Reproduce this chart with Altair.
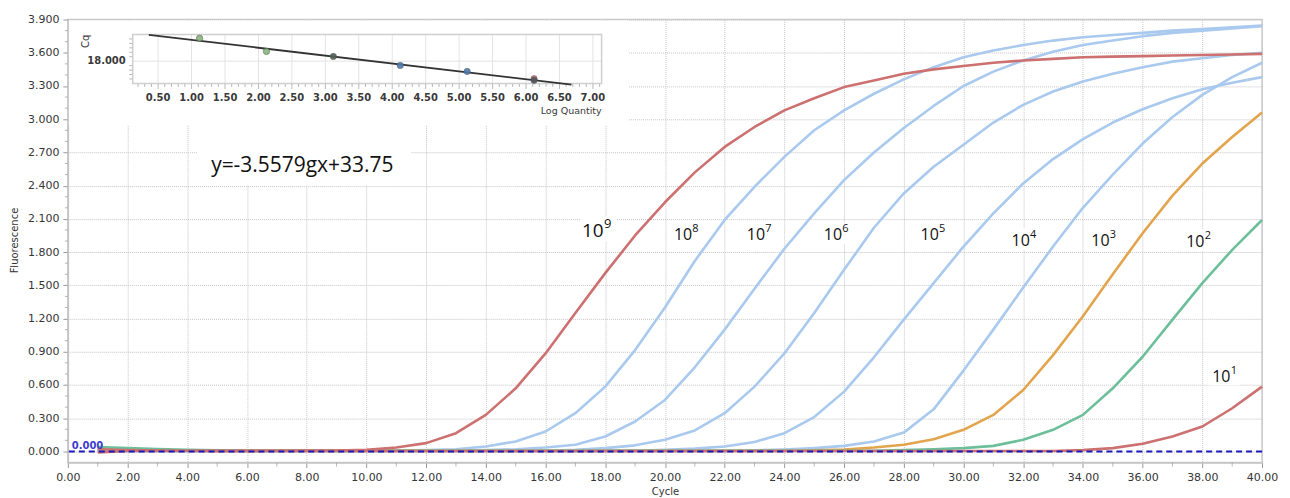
import altair as alt
import pandas as pd

# ---------------- data ----------------
CYCLES = list(range(1, 41))

F_1E9 = [0.020, 0.012, 0.008, 0.006, 0.005, 0.005, 0.006, 0.007, 0.009, 0.015,
         0.035, 0.075, 0.165, 0.330, 0.570, 0.885, 1.250, 1.610, 1.950, 2.250,
         2.520, 2.750, 2.930, 3.080, 3.190, 3.290, 3.350, 3.410, 3.450, 3.480,
         3.510, 3.530, 3.545, 3.560, 3.565, 3.570, 3.575, 3.580, 3.585, 3.590]
F_1E8 = [0.020, 0.015, 0.010, 0.008, 0.008, 0.008, 0.008, 0.008, 0.008, 0.008,
         0.008, 0.012, 0.020, 0.045, 0.090, 0.180, 0.345, 0.585, 0.915, 1.300,
         1.720, 2.090, 2.390, 2.660, 2.900, 3.080, 3.230, 3.360, 3.470, 3.560,
         3.620, 3.670, 3.710, 3.740, 3.760, 3.780, 3.800, 3.815, 3.830, 3.845]
F_1E7 = [0.015, 0.010, 0.008, 0.008, 0.008, 0.008, 0.008, 0.008, 0.008, 0.008,
         0.008, 0.008, 0.008, 0.012, 0.020, 0.035, 0.060, 0.135, 0.270, 0.465,
         0.760, 1.100, 1.470, 1.830, 2.150, 2.450, 2.700, 2.920, 3.120, 3.300,
         3.430, 3.530, 3.610, 3.670, 3.710, 3.750, 3.780, 3.800, 3.820, 3.840]
F_1E6 = [0.010, 0.006, 0.006, 0.006, 0.006, 0.006, 0.006, 0.006, 0.006, 0.006,
         0.006, 0.006, 0.006, 0.006, 0.006, 0.006, 0.015, 0.030, 0.055, 0.105,
         0.190, 0.345, 0.585, 0.885, 1.250, 1.640, 2.020, 2.330, 2.570, 2.770,
         2.970, 3.130, 3.250, 3.340, 3.410, 3.470, 3.520, 3.550, 3.580, 3.600]
F_1E5 = [0.005, 0.005, 0.005, 0.005, 0.005, 0.005, 0.005, 0.005, 0.005, 0.005,
         0.005, 0.005, 0.005, 0.005, 0.005, 0.005, 0.005, 0.005, 0.005, 0.015,
         0.025, 0.045, 0.085, 0.165, 0.310, 0.540, 0.850, 1.190, 1.520, 1.850,
         2.150, 2.420, 2.640, 2.820, 2.970, 3.090, 3.190, 3.270, 3.330, 3.380]
F_1E4 = [0.005, 0.005, 0.005, 0.005, 0.005, 0.005, 0.005, 0.005, 0.005, 0.005,
         0.005, 0.005, 0.005, 0.005, 0.005, 0.005, 0.005, 0.005, 0.005, 0.005,
         0.005, 0.005, 0.010, 0.018, 0.030, 0.050, 0.090, 0.170, 0.380, 0.730,
         1.100, 1.480, 1.850, 2.200, 2.500, 2.780, 3.020, 3.220, 3.380, 3.510]
F_1E3 = [0.030, 0.020, 0.012, 0.008, 0.005, 0.005, 0.005, 0.005, 0.005, 0.005,
         0.005, 0.005, 0.005, 0.005, 0.005, 0.005, 0.005, 0.005, 0.005, 0.005,
         0.005, 0.005, 0.005, 0.005, 0.010, 0.018, 0.035, 0.060, 0.110, 0.195,
         0.330, 0.555, 0.870, 1.220, 1.600, 1.970, 2.310, 2.600, 2.840, 3.060]
F_1E2 = [0.040, 0.030, 0.022, 0.015, 0.010, 0.006, 0.006, 0.006, 0.006, 0.006,
         0.006, 0.006, 0.006, 0.006, 0.006, 0.006, 0.006, 0.006, 0.006, 0.006,
         0.006, 0.006, 0.006, 0.006, 0.006, 0.006, 0.006, 0.012, 0.020, 0.030,
         0.050, 0.105, 0.195, 0.330, 0.570, 0.855, 1.190, 1.520, 1.820, 2.090]
F_1E1 = [-0.010, 0.004, 0.004, 0.004, 0.004, 0.004, 0.004, 0.004, 0.004, 0.004,
         0.004, 0.004, 0.004, 0.004, 0.004, 0.004, 0.004, 0.004, 0.004, 0.004,
         0.004, 0.004, 0.004, 0.004, 0.004, 0.004, 0.004, 0.004, 0.004, 0.004,
         0.004, 0.004, 0.004, 0.012, 0.030, 0.070, 0.135, 0.225, 0.390, 0.585]

# drawing order: blues first, then orange, green, reds
SERIES = [F_1E8, F_1E7, F_1E6, F_1E5, F_1E4, F_1E3, F_1E2, F_1E1, F_1E9]
SERIES_COLORS = ["#a9c9ee", "#a9c9ee", "#a9c9ee", "#a9c9ee", "#a9c9ee",
                 "#e3a44e", "#6cbf9a", "#cc7070", "#cc7070"]

X_TICKS = [0, 2, 4, 6, 8, 10, 12, 14, 16, 18, 20, 22, 24, 26, 28, 30, 32, 34, 36, 38, 40]
X_MINOR = [1, 3, 5, 7, 9, 11, 13, 15, 17, 19, 21, 23, 25, 27, 29, 31, 33, 35, 37, 39]
Y_TICKS = [0.0, 0.3, 0.6, 0.9, 1.2, 1.5, 1.8, 2.1, 2.4, 2.7, 3.0, 3.3, 3.6, 3.9]
Y_MINOR = [0.1, 0.2, 0.4, 0.5, 0.7, 0.8, 1.0, 1.1, 1.3, 1.4, 1.6, 1.7, 1.9, 2.0,
           2.2, 2.3, 2.5, 2.6, 2.8, 2.9, 3.1, 3.2, 3.4, 3.5, 3.7, 3.8]

# curve labels 10^n : left edge (cycle), vertical centre (fluorescence)
LBL_BIG_X = [17.22]
LBL_BIG_Y = [1.99]
LBL_BIG_EXP = ["9"]
LBL_X = [20.30, 22.74, 25.32, 28.56, 31.61, 34.28, 37.46, 38.33]
LBL_Y = [1.95, 1.95, 1.95, 1.95, 1.90, 1.90, 1.89, 0.676]
LBL_EXP = ["8", "7", "6", "5", "4", "3", "2", "1"]

EQ_TEXT = "y=-3.5579gx+33.75"
EQ_POS = [4.8, 2.525]
THR_TEXT = "0.000"
THR_POS = [0.13, 0.018]

# inset: standard curve
INSET_X_DOMAIN = [0.12, 7.13]
INSET_Y_DOMAIN = [8.0, 30.0]
INSET_X_TICKS = [0.5, 1.0, 1.5, 2.0, 2.5, 3.0, 3.5, 4.0, 4.5, 5.0, 5.5, 6.0, 6.5, 7.0]
INSET_Y_TICKS = [18.0]
INSET_PT_X = [1.12, 2.12, 3.12, 4.12, 5.12, 6.12, 6.12]
INSET_PT_Y = [28.34, 22.37, 20.12, 16.08, 13.39, 10.1, 9.4]
INSET_PT_COL = ["#86b878", "#86b878", "#4f5f55", "#4c7bb4", "#4c7bb4", "#d06a6a", "#4a5560"]
INSET_FIT_X = [0.36, 6.68]
INSET_FIT_Y = [29.87, 7.42]

# ---------------- main chart ----------------
W, H = 1197, 444
FONT = "DejaVu Sans"
LBL_FONT = "Open Sans"
BOX_PATH = "M-1,-0.68L1,-0.68L1,0.68L-1,0.68Z"

xs = alt.Scale(domain=[0, 40], nice=False, zero=False)
ys = alt.Scale(domain=[-0.1, 3.9], nice=False, zero=False)
x_axis = alt.Axis(values=X_TICKS, tickCount=40, format=".2f", title="Cycle", grid=True,
                  labelFlush=False, labelOverlap=False, titleY=29,
                  titleBaseline="middle")
y_axis = alt.Axis(values=Y_TICKS, tickCount=40, format=".3f", title="Fluorescence", grid=True,
                  labelFlush=False, labelOverlap=False, labelBound=False,
                  titleX=-53, titleY=221, titleBaseline="middle")

one = pd.DataFrame({"k": [0]})

white_inset = alt.Chart(one).mark_rect(fill="white").encode(
    x=alt.value(1), x2=alt.value(562), y=alt.value(1), y2=alt.value(106))
white_eq = alt.Chart(one).mark_rect(fill="white").encode(
    x=alt.value(130), x2=alt.value(344), y=alt.value(106), y2=alt.value(166))

xminor = alt.Chart(pd.DataFrame({"cycle": X_MINOR})).mark_tick(
    orient="vertical", size=4, thickness=1, color="#9a9a9a").encode(
    x=alt.X("cycle:Q", scale=xs, axis=x_axis), y=alt.value(H + 2))
yminor = alt.Chart(pd.DataFrame({"F": Y_MINOR})).mark_tick(
    orient="horizontal", size=3, thickness=1, color="#9a9a9a").encode(
    y=alt.Y("F:Q", scale=ys, axis=y_axis), x=alt.value(-1.5))

big_df = pd.DataFrame({"cycle": LBL_BIG_X, "F": LBL_BIG_Y, "b": ["10"] * len(LBL_BIG_X), "e": LBL_BIG_EXP})
sm_df = pd.DataFrame({"cycle": LBL_X, "F": LBL_Y, "b": ["10"] * len(LBL_X), "e": LBL_EXP})

# white boxes behind the curve labels (hide the grid, as in the original)
big_box = alt.Chart(big_df).mark_point(shape=BOX_PATH, filled=True, fill="white", opacity=1,
                                       strokeWidth=0, size=1300, xOffset=16, yOffset=-2).encode(
    x=alt.X("cycle:Q", scale=xs, axis=x_axis), y=alt.Y("F:Q", scale=ys, axis=y_axis))
sm_box = alt.Chart(sm_df).mark_point(shape=BOX_PATH, filled=True, fill="white", opacity=1,
                                     strokeWidth=0, size=1000, xOffset=12, yOffset=-2).encode(
    x=alt.X("cycle:Q", scale=xs, axis=x_axis), y=alt.Y("F:Q", scale=ys, axis=y_axis))

curve_layers = []
for vals, col in zip(SERIES, SERIES_COLORS):
    d = pd.DataFrame({"cycle": CYCLES, "F": vals})
    curve_layers.append(
        alt.Chart(d).mark_line(color=col, strokeWidth=2.6, strokeJoin="round").encode(
            x=alt.X("cycle:Q", scale=xs, axis=x_axis),
            y=alt.Y("F:Q", scale=ys, axis=y_axis)))

thr = alt.Chart(pd.DataFrame({"F": [0.0]})).mark_rule(
    color="#1a1ab8", strokeWidth=2, strokeDash=[6, 4]).encode(
    y=alt.Y("F:Q", scale=ys, axis=y_axis))
thr_txt = alt.Chart(pd.DataFrame({"cycle": [THR_POS[0]], "F": [THR_POS[1]], "t": [THR_TEXT]})).mark_text(
    align="left", baseline="alphabetic", font=FONT, fontSize=10, fontWeight="bold",
    color="#3b3bd0").encode(x="cycle:Q", y="F:Q", text="t:N")

big_base = alt.Chart(big_df).mark_text(align="left", baseline="middle", font=LBL_FONT,
                                       fontSize=19, color="#111111").encode(
    x="cycle:Q", y="F:Q", text="b:N")
big_exp = alt.Chart(big_df).mark_text(align="left", baseline="middle", font=LBL_FONT,
                                      fontSize=13, color="#111111", dx=22, dy=-7).encode(
    x="cycle:Q", y="F:Q", text="e:N")
sm_base = alt.Chart(sm_df).mark_text(align="left", baseline="middle", font=LBL_FONT,
                                     fontSize=16, color="#111111").encode(
    x="cycle:Q", y="F:Q", text="b:N")
sm_exp = alt.Chart(sm_df).mark_text(align="left", baseline="middle", font=LBL_FONT,
                                    fontSize=11, color="#111111", dx=18.5, dy=-6).encode(
    x="cycle:Q", y="F:Q", text="e:N")

eq = alt.Chart(pd.DataFrame({"cycle": [EQ_POS[0]], "F": [EQ_POS[1]], "t": [EQ_TEXT]})).mark_text(
    align="left", baseline="alphabetic", font=LBL_FONT, fontSize=21, color="#111111").encode(
    x="cycle:Q", y="F:Q", text="t:N")

main = alt.layer(white_inset, white_eq, xminor, yminor, big_box, sm_box, *curve_layers,
                 thr, thr_txt, big_base, big_exp, sm_base, sm_exp, eq)

# ---------------- inset ----------------
IX = alt.Scale(domain=INSET_X_DOMAIN, range=[65, 535], nice=False, zero=False)
IY = alt.Scale(domain=INSET_Y_DOMAIN, range=[64, 15], nice=False, zero=False)
x0, x1 = INSET_X_DOMAIN
y0, y1 = INSET_Y_DOMAIN

frame_df = pd.DataFrame({"x0": [x0], "x1": [x1], "y0": [y0], "y1": [y1]})
vgrid_df = pd.DataFrame({"lq": INSET_X_TICKS, "y0": [y0] * len(INSET_X_TICKS), "y1": [y1] * len(INSET_X_TICKS)})
hgrid_df = pd.DataFrame({"cq": INSET_Y_TICKS, "x0": [x0] * len(INSET_Y_TICKS), "x1": [x1] * len(INSET_Y_TICKS)})

i_vgrid = alt.Chart(vgrid_df).mark_rule(color="#e3e3e3", strokeWidth=1).encode(
    x=alt.X("lq:Q", scale=IX, axis=None), y=alt.Y("y0:Q", scale=IY, axis=None), y2="y1:Q")
i_hgrid = alt.Chart(hgrid_df).mark_rule(color="#e3e3e3", strokeWidth=1).encode(
    y=alt.Y("cq:Q", scale=IY, axis=None), x=alt.X("x0:Q", scale=IX, axis=None), x2="x1:Q")
i_frame = alt.Chart(frame_df).mark_rect(fill="transparent", stroke="#cfcfcf", strokeWidth=1.5).encode(
    x=alt.X("x0:Q", scale=IX, axis=None), x2="x1:Q",
    y=alt.Y("y0:Q", scale=IY, axis=None), y2="y1:Q")

minor_lq = [round(0.1 * i, 1) for i in range(2, 72) if i % 5]
i_xminor = alt.Chart(pd.DataFrame({"lq": minor_lq, "y0": [y0] * len(minor_lq)})).mark_tick(
    orient="vertical", size=3, thickness=1, color="#9a9a9a", yOffset=2).encode(
    x=alt.X("lq:Q", scale=IX, axis=None), y=alt.Y("y0:Q", scale=IY, axis=None))
i_xmajor = alt.Chart(vgrid_df).mark_tick(
    orient="vertical", size=5, thickness=1, color="#9a9a9a", yOffset=3).encode(
    x=alt.X("lq:Q", scale=IX, axis=None), y=alt.Y("y0:Q", scale=IY, axis=None))
minor_cq = [10.0, 12.0, 14.0, 16.0, 20.0, 22.0, 24.0, 26.0, 28.0]
i_yminor = alt.Chart(pd.DataFrame({"cq": minor_cq, "x0": [x0] * len(minor_cq)})).mark_tick(
    orient="horizontal", size=3, thickness=1, color="#9a9a9a", xOffset=-2).encode(
    y=alt.Y("cq:Q", scale=IY, axis=None), x=alt.X("x0:Q", scale=IX, axis=None))

i_xlab = alt.Chart(vgrid_df).mark_text(baseline="middle", font=FONT, fontSize=10,
                                        fontWeight="bold", color="#3a3a3a", dy=15).encode(
    x=alt.X("lq:Q", scale=IX, axis=None), y=alt.Y("y0:Q", scale=IY, axis=None),
    text=alt.Text("lq:Q", format=".2f"))
i_ylab = alt.Chart(hgrid_df).mark_text(align="right", baseline="middle", font=FONT, fontSize=10,
                                        fontWeight="bold", color="#3a3a3a", dx=-7).encode(
    x=alt.X("x0:Q", scale=IX, axis=None), y=alt.Y("cq:Q", scale=IY, axis=None),
    text=alt.Text("cq:Q", format=".3f"))
i_xtitle = alt.Chart(pd.DataFrame({"x": [x1], "y": [y0], "t": ["Log Quantity"]})).mark_text(
    align="right", baseline="middle", font=FONT, fontSize=9.5, color="#3a3a3a", dy=28).encode(
    x=alt.X("x:Q", scale=IX, axis=None), y=alt.Y("y:Q", scale=IY, axis=None), text="t:N")
i_ytitle = alt.Chart(pd.DataFrame({"x": [-0.58], "y": [26.9], "t": ["Cq"]})).mark_text(
    align="center", baseline="middle", font=FONT, fontSize=10, color="#3a3a3a", angle=270).encode(
    x=alt.X("x:Q", scale=IX, axis=None), y=alt.Y("y:Q", scale=IY, axis=None), text="t:N")

i_fit = alt.Chart(pd.DataFrame({"lq": INSET_FIT_X, "cq": INSET_FIT_Y})).mark_line(
    color="#333333", strokeWidth=1.8).encode(
    x=alt.X("lq:Q", scale=IX, axis=None), y=alt.Y("cq:Q", scale=IY, axis=None))
i_pts = alt.Chart(pd.DataFrame({"lq": INSET_PT_X, "cq": INSET_PT_Y, "c": INSET_PT_COL})).mark_circle(
    size=40, opacity=0.9, stroke="#555555", strokeWidth=0.6).encode(
    x=alt.X("lq:Q", scale=IX, axis=None), y=alt.Y("cq:Q", scale=IY, axis=None),
    color=alt.Color("c:N", scale=None))

inset = alt.layer(i_vgrid, i_hgrid, i_frame, i_xminor, i_xmajor, i_yminor,
                  i_xlab, i_ylab, i_xtitle, i_ytitle, i_fit, i_pts)

chart = alt.layer(main, inset).resolve_scale(x="independent", y="independent").properties(
    width=W, height=H,
    padding={"left": 60, "top": 11, "right": 20, "bottom": 35},
    autosize=alt.AutoSizeParams(type="none"),
).configure_view(
    stroke="#cccccc", strokeWidth=1.5
).configure_axis(
    labelFont=FONT, labelFontSize=11, labelColor="#363636",
    titleFont=FONT, titleFontSize=10, titleFontWeight="normal", titleColor="#333333",
    tickSize=5, tickColor="#9a9a9a", domainColor="#c4c4c4", domainWidth=1.5,
    gridColor="#c4c4c4", gridDash=[1, 1], gridWidth=1, labelPadding=4,
    labelOverlap=False,
)

chart.save("out.html", embed_options={"renderer": "svg", "actions": False})
